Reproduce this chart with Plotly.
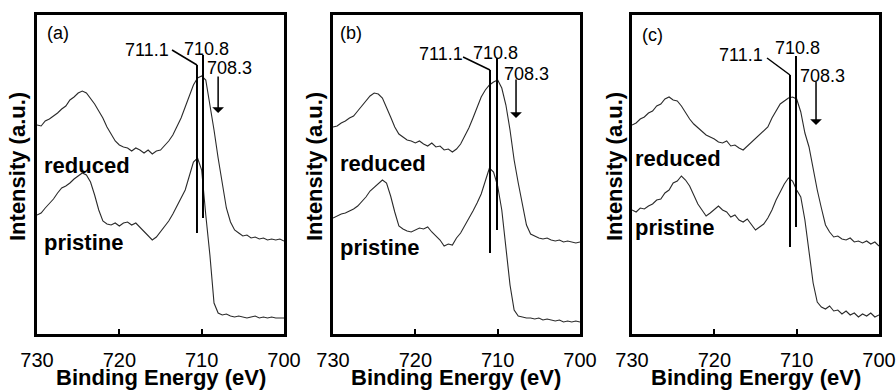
import plotly.graph_objects as go

# Binding energy grid (eV), 730 -> 700 in 0.5 eV steps
energy = [730 - 0.5 * i for i in range(61)]

# Intensities (a.u.)
reduced_a = [209, 208, 213, 215, 218, 221, 225, 228, 234, 237, 241, 243, 241, 236, 230, 223, 216, 207, 200, 193,
             189, 187, 186, 183, 186, 184, 181, 184, 180, 183, 184, 188, 193, 199, 207, 216, 227, 238, 249, 256,
             258, 254, 230, 204, 176, 149, 126, 112, 104, 101, 98, 99, 96, 97, 95, 96, 94, 95, 94, 95, 93]
pristine_a = [119, 121, 126, 130, 135, 141, 146, 148, 151, 155, 158, 161, 159, 152, 139, 124, 113, 110, 109, 111,
              108, 111, 112, 109, 111, 107, 102, 98, 94, 97, 102, 107, 113, 120, 128, 135, 144, 158, 172, 176,
              164, 119, 79, 31, 21, 19, 20, 18, 17, 18, 17, 16, 17, 18, 16, 17, 16, 17, 16, 16, 16]
reduced_b = [207, 208, 211, 213, 216, 218, 223, 228, 233, 238, 241, 240, 236, 227, 217, 207, 200, 197, 194, 193,
             191, 193, 190, 188, 191, 187, 188, 184, 185, 182, 185, 190, 198, 206, 216, 226, 237, 244, 249, 252,
             254, 246, 229, 204, 174, 151, 129, 109, 100, 98, 96, 95, 96, 94, 93, 94, 92, 93, 92, 91, 92]
pristine_b = [116, 118, 120, 121, 123, 125, 128, 132, 137, 143, 147, 151, 154, 151, 138, 122, 108, 105, 103, 102,
              104, 106, 105, 107, 102, 98, 94, 88, 90, 89, 96, 101, 108, 116, 123, 131, 140, 153, 166, 162,
              148, 124, 89, 49, 24, 18, 17, 16, 16, 15, 16, 14, 15, 14, 13, 14, 12, 13, 12, 13, 12]
reduced_c = [209, 211, 215, 217, 221, 223, 228, 230, 235, 237, 234, 233, 228, 221, 215, 210, 206, 203, 199, 197,
             195, 192, 191, 193, 188, 189, 186, 184, 188, 191, 195, 199, 203, 207, 216, 223, 230, 233, 236, 237,
             235, 222, 201, 187, 164, 144, 126, 109, 102, 97, 98, 95, 94, 96, 92, 93, 91, 93, 90, 92, 88]
pristine_c = [124, 122, 126, 125, 128, 130, 134, 135, 141, 144, 151, 153, 158, 154, 148, 139, 130, 124, 118, 121,
              125, 128, 124, 122, 117, 119, 114, 112, 115, 109, 104, 107, 110, 116, 124, 134, 142, 150, 156, 153,
              144, 137, 114, 84, 51, 32, 27, 25, 28, 23, 24, 20, 23, 19, 21, 17, 20, 18, 21, 17, 19]

panel_labels = ["(a)", "(b)", "(c)"]
peak_labels = ["711.1", "710.8", "708.3"]
x_ticks = [730, 720, 710, 700]

# marker lines per panel: (energy, top, bottom)
left_lines = [(710.57, 269, 101), (710.93, 264, 81), (710.81, 259, 87)]
right_lines = [(709.84, 279, 116), (710.08, 276, 104), (710.08, 278, 107)]
leader_start = [(713.6, 284), (714.2, 277), (713.6, 276)]
lbl_711 = [(713.7, 284), (713.97, 280), (713.85, 279)]
lbl_7108 = [(709.47, 285), (710.32, 281), (709.96, 286)]
lbl_7083 = [(706.56, 266), (706.44, 260), (706.92, 258)]
arrows = [(708.0, 259, 221), (707.77, 256, 216), (707.65, 254, 209)]
panel_lbl_pos = [(729.03, 301), (729.4, 301), (729.03, 299)]
reduced_pos = [(729.4, 169), (729.4, 171), (729.9, 176)]
pristine_pos = [(729.4, 92), (729.4, 87), (729.9, 107)]

W, H = 896, 391
x_px = [(37, 284), (333, 580), (632, 879)]
top_px, bot_px = 15, 334
ytitle_x = [17, 314, 614]

FONT = "Arial, Liberation Sans, sans-serif"
reduced = [reduced_a, reduced_b, reduced_c]
pristine = [pristine_a, pristine_b, pristine_c]

fig = go.Figure()
layout = dict(template="none", width=W, height=H, margin=dict(l=0, r=0, t=0, b=0, autoexpand=False),
              plot_bgcolor="white", paper_bgcolor="white", showlegend=False,
              font=dict(family=FONT, color="black"))
shapes, annotations = [], []

for i in range(3):
    sx = "" if i == 0 else str(i + 1)
    xa, ya = "x" + sx, "y" + sx
    for series in (reduced[i], pristine[i]):
        fig.add_trace(go.Scatter(x=energy, y=series, mode="lines", xaxis=xa, yaxis=ya,
                                 line=dict(color="#2a2a2a", width=1.1), hoverinfo="skip"))
    l, r = x_px[i]
    layout["xaxis" + sx] = dict(domain=[l / W, r / W], range=[730, 700], anchor=ya, automargin=False,
                                tickvals=x_ticks, ticks="inside", ticklen=5, tickwidth=2,
                                tickcolor="black", showline=True, linecolor="black", linewidth=2.5,
                                mirror=True, showgrid=False, zeroline=False,
                                tickfont=dict(size=20, family=FONT, color="black"),
                                ticklabelstandoff=6)
    layout["yaxis" + sx] = dict(domain=[1 - bot_px / H, 1 - top_px / H], range=[0, 319], anchor=xa,
                                automargin=False, showticklabels=False, ticks="", showline=True,
                                linecolor="black", linewidth=2.5, mirror=True, showgrid=False,
                                zeroline=False)
    for (e, t, b) in (left_lines[i], right_lines[i]):
        shapes.append(dict(type="line", xref=xa, yref=ya, x0=e, x1=e, y0=b, y1=t,
                           line=dict(color="black", width=2)))
    shapes.append(dict(type="line", xref=xa, yref=ya, x0=leader_start[i][0], y0=leader_start[i][1],
                       x1=left_lines[i][0], y1=left_lines[i][1], line=dict(color="black", width=1.5)))
    txt = dict(xref=xa, yref=ya, showarrow=False, yanchor="middle",
               font=dict(size=18, family=FONT, color="black"))
    annotations.append(dict(txt, x=lbl_711[i][0], y=lbl_711[i][1], text=peak_labels[0], xanchor="right"))
    annotations.append(dict(txt, x=lbl_7108[i][0], y=lbl_7108[i][1], text=peak_labels[1], xanchor="center"))
    annotations.append(dict(txt, x=lbl_7083[i][0], y=lbl_7083[i][1], text=peak_labels[2], xanchor="center"))
    annotations.append(dict(txt, x=panel_lbl_pos[i][0], y=panel_lbl_pos[i][1], text=panel_labels[i],
                            xanchor="left"))
    bold = dict(xref=xa, yref=ya, showarrow=False, xanchor="left", yanchor="middle",
                font=dict(size=22, family=FONT, color="black"))
    annotations.append(dict(bold, x=reduced_pos[i][0], y=reduced_pos[i][1], text="<b>reduced</b>"))
    annotations.append(dict(bold, x=pristine_pos[i][0], y=pristine_pos[i][1], text="<b>pristine</b>"))
    ae, at, ab = arrows[i]
    annotations.append(dict(xref=xa, yref=ya, axref=xa, ayref=ya, x=ae, y=ab, ax=ae, ay=at, text="",
                            showarrow=True, arrowhead=1, arrowsize=1.3, arrowwidth=1.5,
                            arrowcolor="black"))
    annotations.append(dict(xref="paper", yref="paper", x=(l + r) / 2 / W, y=1 - 377 / H,
                            xanchor="center", yanchor="middle",
                            text="<b>Binding Energy (eV)</b>", showarrow=False,
                            font=dict(size=22, family=FONT, color="black")))
    annotations.append(dict(xref="paper", yref="paper", x=ytitle_x[i] / W, y=1 - 167 / H,
                            xanchor="center", yanchor="middle",
                            text="<b>Intensity (a.u.)</b>", textangle=-90, showarrow=False,
                            font=dict(size=22, family=FONT, color="black")))

layout["shapes"] = shapes
layout["annotations"] = annotations
fig.update_layout(**layout)
fig.write_html("out.html")
